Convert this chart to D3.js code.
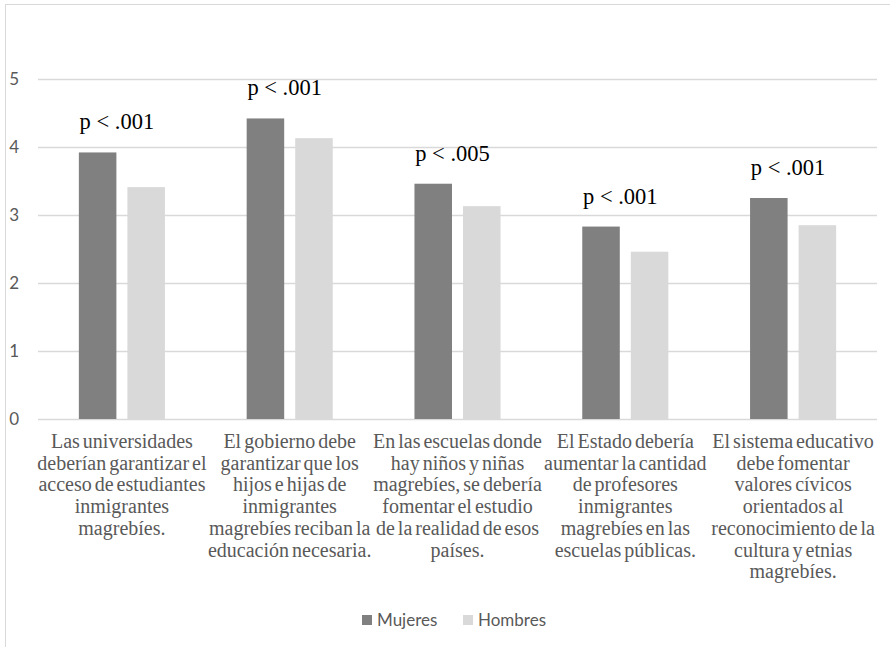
<!DOCTYPE html>
<html>
<head>
<meta charset="utf-8">
<title>Mujeres / Hombres</title>
<style>
  body { margin: 0; background: #fff; }
  .ylab text { font-family: Lato, "Noto Sans", sans-serif; font-size: 17px; fill: #595959; }
  .cat text { font-family: "Liberation Serif", "Times New Roman", serif; font-size: 20px; fill: #595959; word-spacing: -2px; }
  .plab { font-family: "Liberation Serif", "Times New Roman", serif; font-size: 22.5px; fill: #000; }
  .legend text { font-family: Lato, "Noto Sans", sans-serif; font-size: 17px; fill: #595959; }
</style>
</head>
<body>
<div id="chart"></div>
<script src="https://d3js.org/d3.v7.min.js"></script>
<script>
// data
var categories = [
  ["Las universidades", "deberían garantizar el", "acceso de estudiantes", "inmigrantes", "magrebíes."],
  ["El gobierno debe", "garantizar que los", "hijos e hijas de", "inmigrantes", "magrebíes reciban la", "educación necesaria."],
  ["En las escuelas donde", "hay niños y niñas", "magrebíes, se debería", "fomentar el estudio", "de la realidad de esos", "países."],
  ["El Estado debería", "aumentar la cantidad", "de profesores", "inmigrantes", "magrebíes en las", "escuelas públicas."],
  ["El sistema educativo", "debe fomentar", "valores cívicos", "orientados al", "reconocimiento de la", "cultura y etnias", "magrebíes."]
];
var seriesNames = ["Mujeres", "Hombres"];
var mujeres = [3.92, 4.42, 3.46, 2.83, 3.25];
var hombres = [3.41, 4.13, 3.13, 2.46, 2.85];
var pLabels = ["p < .001", "p < .001", "p < .005", "p < .001", "p < .001"];
var yTicks = [0, 1, 2, 3, 4, 5];

var width = 890, height = 647;
var colors = { Mujeres: "#808080", Hombres: "#d9d9d9" };

var svg = d3.select("#chart").append("svg")
    .attr("width", width)
    .attr("height", height);

// chart area border (right and bottom edges fall outside the picture)
svg.append("rect")
    .attr("x", 5.5).attr("y", 4.5)
    .attr("width", 1000).attr("height", 1000)
    .attr("fill", "none")
    .attr("stroke", "#d9d9d9");

var plotL = 38, plotR = 877, plotT = 79, plotB = 419;

var y = d3.scaleLinear().domain([0, 5]).range([plotB, plotT]);

var x0 = d3.scaleBand()
    .domain(d3.range(categories.length))
    .range([plotL, plotR])
    .paddingInner(0.487)
    .paddingOuter(0.2435);

var x1 = d3.scaleBand()
    .domain(seriesNames)
    .range([0, x0.bandwidth()])
    .paddingInner(0.227);

// gridlines + y labels
var yAxis = svg.append("g")
    .attr("class", "ylab")
    .attr("transform", "translate(" + plotL + ",0)")
    .call(d3.axisLeft(y).tickValues(yTicks).tickSize(-(plotR - plotL)).tickPadding(19).tickFormat(d3.format("d")));
yAxis.select(".domain").remove();
yAxis.selectAll(".tick line").attr("stroke", "#d9d9d9").attr("stroke-width", 1.3);

// bars
var rows = categories.map(function(c, i) {
  return { i: i, values: [
    { key: "Mujeres", value: mujeres[i] },
    { key: "Hombres", value: hombres[i] }
  ] };
});

var groups = svg.selectAll("g.grp")
    .data(rows)
  .enter().append("g")
    .attr("class", "grp")
    .attr("transform", function(d) { return "translate(" + x0(d.i) + ",0)"; });

groups.selectAll("rect")
    .data(function(d) { return d.values; })
  .enter().append("rect")
    .attr("x", function(d) { return x1(d.key); })
    .attr("width", x1.bandwidth())
    .attr("y", function(d) { return y(d.value); })
    .attr("height", function(d) { return plotB - y(d.value); })
    .attr("fill", function(d) { return colors[d.key]; });

// significance labels above the pairs
svg.selectAll("text.plab")
    .data(pLabels)
  .enter().append("text")
    .attr("class", "plab")
    .attr("x", function(d, i) { return x0(i) + x0.bandwidth() / 2 - 5; })
    .attr("y", function(d, i) { return y(mujeres[i]) - 23; })
    .attr("text-anchor", "middle")
    .text(function(d) { return d; });

// category labels
var cat = svg.append("g").attr("class", "cat");
cat.selectAll("text")
    .data(categories)
  .enter().append("text")
    .attr("text-anchor", "middle")
    .attr("x", function(d, i) { return x0(i) + x0.bandwidth() / 2; })
    .attr("y", 448)
    .each(function(lines) {
      var t = d3.select(this);
      lines.forEach(function(l, k) {
        t.append("tspan")
          .attr("x", t.attr("x"))
          .attr("dy", k === 0 ? 0 : 21.7)
          .text(l);
      });
    });

// legend
var legend = svg.append("g").attr("class", "legend");
var legX = [362, 463];
seriesNames.forEach(function(name, i) {
  legend.append("rect")
    .attr("x", legX[i]).attr("y", 615)
    .attr("width", 10).attr("height", 10)
    .attr("fill", colors[name]);
  legend.append("text")
    .attr("x", legX[i] + 15).attr("y", 626)
    .text(name);
});
</script>
</body>
</html>
